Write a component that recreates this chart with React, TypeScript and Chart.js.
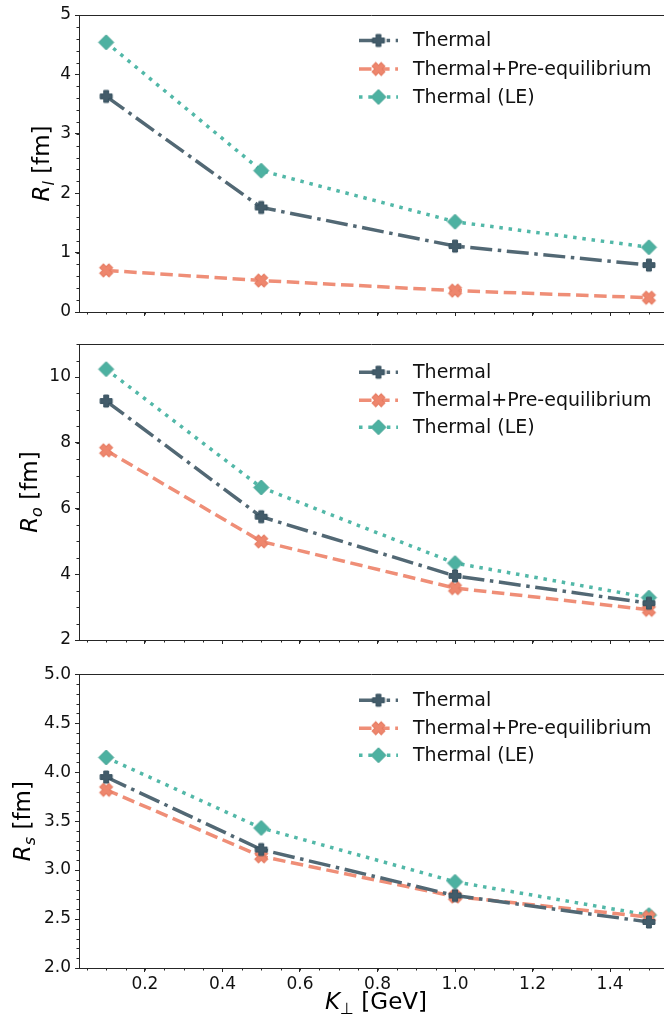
import React, { useEffect, useRef } from "react";
import { Chart, registerables } from "chart.js";

Chart.register(...registerables);

// ---------- data ----------
const kPerp = [0.1, 0.5, 1.0, 1.5];
const seriesNames = ["Thermal", "Thermal+Pre-equilibrium", "Thermal (LE)"];

const rlThermal = [3.63, 1.76, 1.11, 0.79];
const rlPreEq = [0.7, 0.53, 0.36, 0.24];
const rlLE = [4.54, 2.38, 1.52, 1.09];

const roThermal = [9.27, 5.75, 3.95, 3.12];
const roPreEq = [7.77, 5.0, 3.58, 2.92];
const roLE = [10.24, 6.64, 4.34, 3.29];

const rsThermal = [3.95, 3.21, 2.74, 2.47];
const rsPreEq = [3.82, 3.14, 2.73, 2.52];
const rsLE = [4.15, 3.43, 2.88, 2.54];

const xTicks = [0.2, 0.4, 0.6, 0.8, 1.0, 1.2, 1.4];
const rlTicks = [0, 1, 2, 3, 4, 5];
const roTicks = [2, 4, 6, 8, 10];
const rsTicks = [2.0, 2.5, 3.0, 3.5, 4.0, 4.5, 5.0];

// ---------- styles ----------
const FONT = '"DejaVu Sans", "Liberation Sans", sans-serif';
const SPINE = "#262626";
const COLORS = {
  thermal: { line: "#526874", fill: "#435c6a", edge: "#36505e" },
  pre: { line: "#ef8e77", fill: "#ee866d", edge: "#e5795f" },
  le: { line: "#52b8a8", fill: "#4db1a1", edge: "#3d9f8f" },
};
const DASHES = {
  thermal: [22, 5.6, 3.5, 5.6],
  pre: [12.5, 5.6],
  le: [3.5, 5.8],
};

function markerCanvas(kind: string, fill: string, edge: string, size: number) {
  const c = document.createElement("canvas");
  const s = size + 6;
  c.width = s;
  c.height = s;
  const g = c.getContext("2d") as CanvasRenderingContext2D;
  g.translate(s / 2, s / 2);
  g.beginPath();
  const r = size / 2;
  if (kind === "diamond") {
    g.moveTo(0, -r);
    g.lineTo(r, 0);
    g.lineTo(0, r);
    g.lineTo(-r, 0);
    g.closePath();
  } else {
    if (kind === "x") g.rotate(Math.PI / 4);
    const t = size * 0.2;
    g.moveTo(-t, -r);
    g.lineTo(t, -r);
    g.lineTo(t, -t);
    g.lineTo(r, -t);
    g.lineTo(r, t);
    g.lineTo(t, t);
    g.lineTo(t, r);
    g.lineTo(-t, r);
    g.lineTo(-t, t);
    g.lineTo(-r, t);
    g.lineTo(-r, -t);
    g.lineTo(-t, -t);
    g.closePath();
  }
  g.fillStyle = fill;
  g.fill();
  g.strokeStyle = edge;
  g.lineWidth = 1;
  g.stroke();
  return c;
}

type PanelDef = {
  top: number;
  height: number;
  padTop: number;
  xAxisHeight: number;
  yMin: number;
  yMax: number;
  yTicks: number[];
  yMinorStep: number;
  yDecimals: number;
  thermal: number[];
  pre: number[];
  le: number[];
  sub: string;
  titleBaseX: number;
  showX: boolean;
  legendOffsets: number[];
};

const PANELS: PanelDef[] = [
  {
    top: 0, height: 330, padTop: 15, xAxisHeight: 18,
    yMin: 0, yMax: 5, yTicks: rlTicks, yMinorStep: 0.2, yDecimals: 0,
    thermal: rlThermal, pre: rlPreEq, le: rlLE, sub: "l", titleBaseX: 49,
    showX: false, legendOffsets: [25.5, 54, 82],
  },
  {
    top: 330, height: 330, padTop: 13, xAxisHeight: 20,
    yMin: 2, yMax: 11, yTicks: roTicks, yMinorStep: 0.5, yDecimals: 0,
    thermal: roThermal, pre: roPreEq, le: roLE, sub: "o", titleBaseX: 37,
    showX: false, legendOffsets: [28, 56, 83],
  },
  {
    top: 660, height: 362, padTop: 11, xAxisHeight: 54,
    yMin: 2, yMax: 5, yTicks: rsTicks, yMinorStep: 0.1, yDecimals: 1,
    thermal: rsThermal, pre: rsPreEq, le: rsLE, sub: "s", titleBaseX: 30,
    showX: true, legendOffsets: [26, 54, 81],
  },
];

const X_MIN = 0.03;
const X_MAX = 1.539;

function drawMathLabel(
  ctx: CanvasRenderingContext2D,
  main: string,
  sub: string,
  subItalic: boolean,
  rest: string,
  x: number,
  y: number,
  rotated: boolean
) {
  const mainFont = `italic 23px ${FONT}`;
  const subFont = `${subItalic ? "italic " : ""}16px ${FONT}`;
  const restFont = `23px ${FONT}`;
  ctx.save();
  ctx.font = mainFont;
  const w1 = ctx.measureText(main).width;
  ctx.font = subFont;
  const w2 = ctx.measureText(sub).width;
  ctx.font = restFont;
  const w3 = ctx.measureText(rest).width;
  const total = w1 + w2 + w3;
  ctx.translate(x, y);
  if (rotated) ctx.rotate(-Math.PI / 2);
  ctx.fillStyle = "#000";
  ctx.textBaseline = "alphabetic";
  ctx.textAlign = "left";
  let cx = -total / 2;
  ctx.font = mainFont;
  ctx.fillText(main, cx, 0);
  cx += w1;
  ctx.font = subFont;
  ctx.fillText(sub, cx, 5);
  cx += w2;
  ctx.font = restFont;
  ctx.fillText(rest, cx, 0);
  ctx.restore();
}

function Panel({ def }: { def: PanelDef }) {
  const ref = useRef<HTMLCanvasElement | null>(null);
  useEffect(() => {
    const canvas = ref.current;
    if (!canvas) return;
    const mk = {
      thermal: markerCanvas("plus", COLORS.thermal.fill, COLORS.thermal.edge, 12),
      pre: markerCanvas("x", COLORS.pre.fill, COLORS.pre.edge, 13),
      le: markerCanvas("diamond", COLORS.le.fill, COLORS.le.edge, 15),
    };
    const keys: ("thermal" | "pre" | "le")[] = ["thermal", "pre", "le"];
    const seriesData = [def.thermal, def.pre, def.le];

    const datasets = keys.map((k, i) => ({
      label: seriesNames[i],
      data: kPerp.map((x, j) => ({ x, y: seriesData[i][j] })),
      borderColor: COLORS[k].line,
      backgroundColor: COLORS[k].fill,
      borderWidth: 3.5,
      borderDash: DASHES[k],
      borderCapStyle: "butt" as const,
      pointStyle: mk[k],
      pointRadius: 8,
      pointHoverRadius: 8,
      fill: false,
      tension: 0,
    }));

    const extras = {
      id: "extras",
      afterDraw(chart: any) {
        const ctx: CanvasRenderingContext2D = chart.ctx;
        const area = chart.chartArea;
        const xs = chart.scales.x;
        const ys = chart.scales.y;
        ctx.save();
        // top spine
        ctx.strokeStyle = SPINE;
        ctx.lineWidth = 1;
        ctx.beginPath();
        ctx.moveTo(area.left, Math.round(area.top) + 0.5);
        ctx.lineTo(area.right, Math.round(area.top) + 0.5);
        ctx.stroke();
        // minor ticks
        ctx.beginPath();
        for (let i = 1; i * 0.05 <= X_MAX + 1e-9; i++) {
          const v = i * 0.05;
          if (v < X_MIN) continue;
          const px = Math.round(xs.getPixelForValue(v)) + 0.5;
          ctx.moveTo(px, area.bottom);
          ctx.lineTo(px, area.bottom + 2.5);
        }
        const n = Math.round((def.yMax - def.yMin) / def.yMinorStep);
        for (let i = 0; i <= n; i++) {
          const v = def.yMin + i * def.yMinorStep;
          const py = Math.round(ys.getPixelForValue(v)) + 0.5;
          ctx.moveTo(area.left, py);
          ctx.lineTo(area.left - 2.5, py);
        }
        ctx.stroke();
        // legend
        const hx0 = 359;
        const hx1 = 398;
        keys.forEach((k, i) => {
          const y = area.top + def.legendOffsets[i];
          ctx.save();
          ctx.strokeStyle = COLORS[k].line;
          ctx.lineWidth = 3.5;
          ctx.lineCap = "butt";
          ctx.setLineDash(DASHES[k]);
          ctx.beginPath();
          ctx.moveTo(hx0, y);
          ctx.lineTo(hx1, y);
          ctx.stroke();
          ctx.restore();
          const img = mk[k];
          ctx.drawImage(img, (hx0 + hx1) / 2 - img.width / 2, y - img.height / 2);
          ctx.fillStyle = "#111";
          ctx.font = `19px ${FONT}`;
          ctx.textBaseline = "middle";
          ctx.textAlign = "left";
          ctx.fillText(seriesNames[i], 413, y + 1);
        });
        // y title
        drawMathLabel(ctx, "R", def.sub, true, " [fm]", def.titleBaseX, (area.top + area.bottom) / 2, true);
        // x title
        if (def.showX) {
          drawMathLabel(ctx, "K", "\u22A5", false, " [GeV]", 376, area.bottom + 41, false);
        }
        ctx.restore();
      },
    };

    const chart = new Chart(canvas, {
      type: "line",
      data: { datasets } as any,
      options: {
        animation: false,
        responsive: false,
        devicePixelRatio: 1,
        events: [],
        layout: { autoPadding: false, padding: { top: def.padTop, left: 0, right: 0, bottom: 0 } },
        plugins: { legend: { display: false }, tooltip: { enabled: false } },
        scales: {
          x: {
            type: "linear",
            min: X_MIN,
            max: X_MAX,
            afterBuildTicks: (s: any) => {
              s.ticks = xTicks.map((v) => ({ value: v }));
            },
            afterFit: (s: any) => {
              s.height = def.xAxisHeight;
            },
            ticks: {
              autoSkip: false,
              maxRotation: 0,
              padding: 2,
              color: "#111",
              font: { family: FONT, size: 17 },
              callback: (v: any) => (def.showX ? Number(v).toFixed(1) : ""),
            },
            grid: {
              display: true,
              drawOnChartArea: false,
              drawTicks: true,
              tickLength: 4,
              tickWidth: 1,
              tickColor: SPINE,
              color: SPINE,
            },
            border: { display: true, color: SPINE, width: 1 },
          },
          y: {
            type: "linear",
            min: def.yMin,
            max: def.yMax,
            afterBuildTicks: (s: any) => {
              s.ticks = def.yTicks.map((v) => ({ value: v }));
            },
            afterFit: (s: any) => {
              s.width = 79;
            },
            ticks: {
              padding: 4,
              color: "#111",
              font: { family: FONT, size: 17 },
              callback: (v: any) => Number(v).toFixed(def.yDecimals),
            },
            grid: {
              display: true,
              drawOnChartArea: false,
              drawTicks: true,
              tickLength: 4,
              tickWidth: 1,
              tickColor: SPINE,
              color: SPINE,
            },
            border: { display: true, color: SPINE, width: 1 },
          },
        },
      } as any,
      plugins: [extras],
    });
    return () => chart.destroy();
  }, [def]);
  return (
    <canvas
      ref={ref}
      width={664}
      height={def.height}
      style={{ position: "absolute", left: 0, top: def.top, display: "block" }}
    />
  );
}

export default function App() {
  return (
    <div
      style={{
        position: "relative",
        width: 664,
        height: 1022,
        overflow: "hidden",
        background: "#fff",
      }}
    >
      <style>{"html,body{margin:0;padding:0;background:#fff;overflow:hidden;}"}</style>
      {PANELS.map((p, i) => (
        <Panel key={i} def={p} />
      ))}
    </div>
  );
}
